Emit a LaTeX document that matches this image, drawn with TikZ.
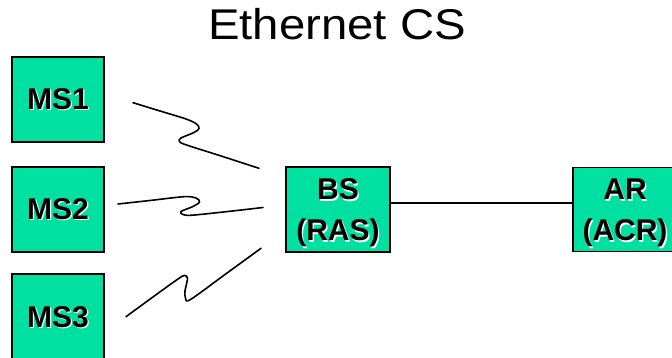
\documentclass[tikz,border=0pt]{standalone}
\usepackage{fontspec}
\setmainfont{Liberation Sans}
\usetikzlibrary{positioning}
\definecolor{boxgreen}{RGB}{0,224,160}
% bold label with a white drop outline below-right
\newcommand\emb[1]{\leavevmode\rlap{\kern1.3pt\raisebox{-1.3pt}{\textcolor{white}{#1}}}#1}
\tikzset{
  station/.style={draw=black, line width=1.5pt, fill=boxgreen,
    minimum width=92pt, minimum height=85pt, inner sep=0pt,
    font=\fontsize{30}{41}\selectfont\bfseries, align=center},
  wide/.style={minimum width=104pt},
  twoline/.style={text height=62.5pt, text depth=0pt},
  radio/.style={line width=1.6pt, line join=round, line cap=round},
  wire/.style={line width=1.2pt}
}
\begin{document}
\begin{tikzpicture}[x=1pt,y=1pt]
\clip (0,0) rectangle (672,358);
\fill[white] (0,0) rectangle (672,358);

% title
\node[anchor=base, inner sep=0pt, font=\fontsize{43}{50}\selectfont] (title) at (337,318)
  {\scalebox{1.1}[1]{Ethernet CS}};

% mobile stations
\node[station] (ms1) at (58,258.5) {\emb{MS1}};
\node[station] (ms2) at (58,148.5) {\emb{MS2}};
\node[station, minimum height=88pt] (ms3) at (58,40) {\emb{MS3}};

% base station and access router
\node[station, wide, twoline] (bs) at (338,148.5) {\emb{BS}\\\emb{(RAS)}};
\node[station, wide, twoline, minimum height=84pt] (ar) at (625,148.5) {\emb{AR}\\\emb{(ACR)}};

% wired link
\draw[wire] ([yshift=6.5pt]bs.east) -- ([yshift=6.5pt]ar.west);

% radio links
\coordinate (r1s) at (133,255.3);
\coordinate (r1e) at (259,189.7);
\coordinate (r2s) at (118,154);
\coordinate (r2e) at (263,150.5);
\coordinate (r3s) at (126,41.3);
\coordinate (r3e) at (261,109.7);

\draw[radio] plot[smooth, tension=0.55] coordinates {
  (r1s) (160,247) (186,239) (196.5,234) (199,229.5) (194,225.5)
  (181,220) (179.5,216.5) (186,213.2) (222,201.7) (r1e)};
\draw[radio] plot[smooth, tension=0.55] coordinates {
  (r2s) (150,157.5) (184,161.3) (196,160) (199.5,156) (193,151.5)
  (181,146.5) (183,143.5) (192,142.8) (228,146.5) (r2e)};
\draw[radio] plot[smooth, tension=0.55] coordinates {
  (r3s) (155,62.5) (178,79) (184.5,82.5) (187.5,79.5) (185,67)
  (185.5,60) (190.5,58.5) (225,83.5) (r3e)};
\end{tikzpicture}
\end{document}
